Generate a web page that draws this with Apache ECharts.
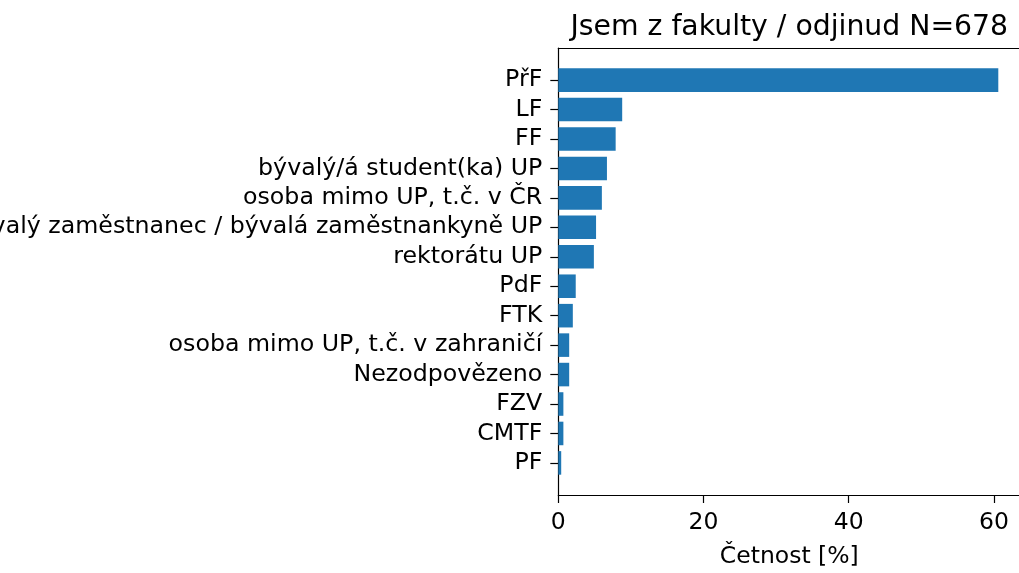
<!DOCTYPE html>
<html>
<head>
<meta charset="utf-8">
<script src="https://cdn.jsdelivr.net/npm/echarts@6/dist/echarts.min.js"></script>
<style>html,body{margin:0;padding:0;background:#fff;}#c{width:1019px;height:573px;}</style>
</head>
<body>
<div id="c"></div>
<script>
const categories = ["PřF","LF","FF","bývalý/á student(ka) UP","osoba mimo UP, t.č. v ČR","bývalý zaměstnanec / bývalá zaměstnankyně UP","rektorátu UP","PdF","FTK","osoba mimo UP, t.č. v zahraničí","Nezodpovězeno","FZV","CMTF","PF"];
const values = [60.6, 8.8, 7.9, 6.7, 6.0, 5.2, 4.9, 2.4, 2.0, 1.5, 1.5, 0.7, 0.7, 0.4];
const xTicks = [0, 20, 40, 60];
const titleText = "Jsem z fakulty / odjinud N=678";
const xName = "Četnost [%]";

const FONT = "DejaVu Sans";
const xMax = Math.max(...values) * 1.05;
const plotLeft = 558.3, plotTop = 48, plotH = 447, plotW = 462;
const n = categories.length;
// matplotlib-like margins: bars at integer positions, 5% padding of data range
const span = (n - 1) + 0.8;
const pad = span * 0.05;
const unit = plotH / (span + 2 * pad);
const barTop = plotTop + (pad + 0.4 - 0.5) * unit;
const barH = n * unit;

const chart = echarts.init(document.getElementById('c'), null, {renderer: 'canvas'});
chart.setOption({
  animation: false,
  backgroundColor: '#fff',
  textStyle: {fontFamily: FONT},
  title: {
    text: titleText,
    left: plotLeft + plotW / 2 - 5,
    textAlign: 'center',
    top: 9,
    textStyle: {fontFamily: FONT, fontSize: 28.3, fontWeight: 'normal', color: '#000'}
  },
  grid: [
    {left: plotLeft, top: plotTop, width: plotW, height: plotH, containLabel: false, outerBoundsMode: 'none'},
    {left: plotLeft, top: barTop, width: plotW, height: barH, containLabel: false, outerBoundsMode: 'none'}
  ],
  xAxis: [
    {
      type: 'value', gridIndex: 0, min: 0, max: xMax,
      name: xName, nameLocation: 'middle', nameGap: 50,
      nameTextStyle: {fontFamily: FONT, fontSize: 23.5, color: '#000'},
      axisLine: {show: true, lineStyle: {color: '#000', width: 1.2}},
      axisTick: {show: true, length: 8, customValues: xTicks, lineStyle: {color: '#000', width: 1.2}},
      axisLabel: {fontFamily: FONT, fontSize: 23.5, color: '#000', margin: 16, customValues: xTicks},
      splitLine: {show: false}
    },
    {
      type: 'value', gridIndex: 1, min: 0, max: xMax, show: false
    },
    {
      type: 'value', gridIndex: 0, position: 'top', min: 0, max: xMax,
      axisLine: {show: true, lineStyle: {color: '#000', width: 1.2}},
      axisTick: {show: false}, axisLabel: {show: false}, splitLine: {show: false}
    }
  ],
  yAxis: [
    {
      type: 'value', gridIndex: 0, min: 0, max: 1,
      axisLine: {show: true, lineStyle: {color: '#000', width: 1.2}},
      axisTick: {show: false}, axisLabel: {show: false}, splitLine: {show: false}
    },
    {
      type: 'category', gridIndex: 1, data: categories, inverse: true,
      axisLine: {show: false},
      axisTick: {show: true, alignWithLabel: true, interval: 0, length: 8, lineStyle: {color: '#000', width: 1.2}},
      axisLabel: {fontFamily: FONT, fontSize: 23.7, color: '#000', margin: 16, interval: 0},
      splitLine: {show: false}
    }
  ],
  series: [{
    type: 'bar',
    xAxisIndex: 1, yAxisIndex: 1,
    data: values,
    barWidth: '80%',
    itemStyle: {color: '#1f77b4'}
  }]
});
</script>
</body>
</html>
